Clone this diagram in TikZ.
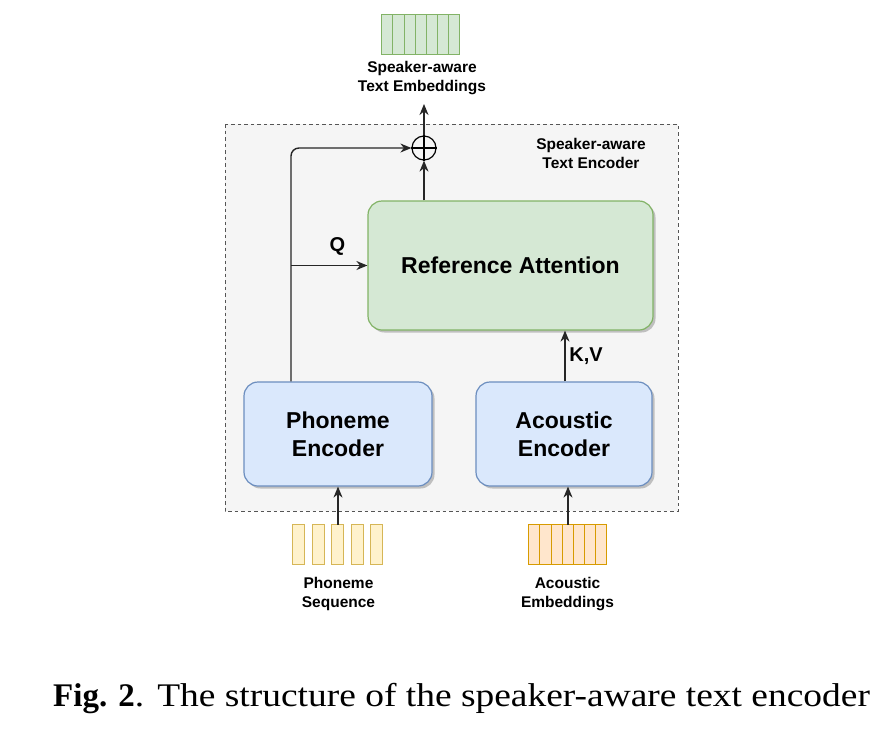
\documentclass[tikz,border=0pt]{standalone}
\usepackage{fontspec}
\setmainfont{Liberation Serif}
\newfontfamily\arialfont{Liberation Sans}
\newfontfamily\capfont[FakeStretch=1.135]{Liberation Serif}
\usetikzlibrary{arrows.meta,shadows,calc}
\definecolor{gfill}{HTML}{D5E8D4}
\definecolor{gline}{HTML}{82B366}
\definecolor{bfill}{HTML}{DAE8FC}
\definecolor{bline}{HTML}{6C8EBF}
\definecolor{yfill}{HTML}{FFF2CC}
\definecolor{yline}{HTML}{D6B656}
\definecolor{ofill}{HTML}{FFE6CC}
\definecolor{oline}{HTML}{D79B00}
\definecolor{cfill}{HTML}{F5F5F5}
\definecolor{cline}{HTML}{555555}
\begin{document}
\begin{tikzpicture}[x=1pt,y=-1pt,
  box/.style={rounded corners=14pt, line width=1.2pt, align=center, inner sep=0pt,
    font=\arialfont\bfseries\fontsize{23}{28}\selectfont,
    drop shadow={shadow xshift=2.5pt,shadow yshift=-2.5pt,opacity=0.22,fill=black}},
  greenbox/.style={box, draw=gline, fill=gfill},
  bluebox/.style={box, draw=bline, fill=bfill},
  lbl/.style={font=\arialfont\bfseries\fontsize{15.5}{19}\selectfont, align=center, inner sep=0pt},
  qlbl/.style={font=\arialfont\bfseries\fontsize{20}{24}\selectfont, inner sep=0pt},
  arr/.style={line width=1.4pt, draw=black!85, -{Stealth[length=11pt,width=9pt,inset=3.5pt]}},
  cellbox/.style={minimum width=78pt, minimum height=40pt, inner sep=0pt}
]
\useasboundingbox (0,0) rectangle (881,732);
\fill[white] (0,0) rectangle (881,732);

% container
\draw[cline, fill=cfill, line width=1pt, dash pattern=on 3.5pt off 3pt] (225,124) rectangle (678,511);
\node[lbl, anchor=base] (enclbl) at (591,168) {Speaker-aware\\Text Encoder};

% main boxes
\node[greenbox, minimum width=285pt, minimum height=129pt] (ra) at (510.5,265.5) {Reference Attention};
\node[bluebox, minimum width=188pt, minimum height=104pt] (pe) at (338,434) {Phoneme\\Encoder};
\node[bluebox, minimum width=176pt, minimum height=104pt] (ae) at (564,434) {Acoustic\\Encoder};

% plus
\node[circle, draw, line width=1.2pt, minimum size=24pt, inner sep=0pt] (plus) at (424,148) {};
\draw[line width=1.2pt] (plus.north) -- (plus.south) (plus.west) -- (plus.east);

% output embeddings
\node[cellbox] (outemb) at (421,35) {};
\foreach \i in {0,...,6}
  \draw[gline, fill=gfill, line width=1pt] ($(outemb.north west)+(\i*11.143,0)$) rectangle ++(11.143,40);
\node[lbl, anchor=base] (outlbl) at (422,91) {Speaker-aware\\Text Embeddings};
\coordinate (outtip) at (424,104);

% phoneme sequence
\node[cellbox, minimum width=90pt] (phseq) at (338,545) {};
\foreach \i in {0,...,4}
  \draw[yline, fill=yfill, line width=1pt] ($(phseq.north west)+(\i*19.5,0)$) rectangle ++(12,40);
\node[lbl, anchor=base] (phlbl) at (338.5,607) {Phoneme\\Sequence};

% acoustic embeddings
\node[cellbox] (acemb) at (568,545) {};
\foreach \i in {0,...,6}
  \draw[oline, fill=ofill, line width=1pt] ($(acemb.north west)+(\i*11.143,0)$) rectangle ++(11.143,40);
\node[lbl, anchor=base] (aclbl) at (567.5,607) {Acoustic\\Embeddings};

% connectors
\coordinate (qpt) at (291,265.5);
\draw[arr, rounded corners=8pt] (pe.north -| qpt) -- (qpt |- plus) -- (plus.west);
\draw[arr] (qpt) -- (ra.west);
\node[qlbl] (q) at (337.5,246) {Q};
\draw[arr] (ra.north -| plus) -- (plus.south);
\draw[arr] (plus.north) -- (outtip);
\coordinate (kvx) at (565,0);
\draw[arr] (ae.north -| kvx) -- (ra.south -| kvx);
\node[qlbl] (kv) at (586,356) {K,V};
\draw[arr] (phseq.north) -- (phseq.north |- pe.south);
\draw[arr] (acemb.north) -- (acemb.north |- ae.south);

% caption
\node[anchor=base west, inner sep=0pt, font=\fontsize{33}{38}\selectfont] (cap) at (53,706)
  {\textbf{Fig. 2}{\capfont.\hspace{0.4em}The structure of the speaker-aware text encoder}};
\end{tikzpicture}
\end{document}
